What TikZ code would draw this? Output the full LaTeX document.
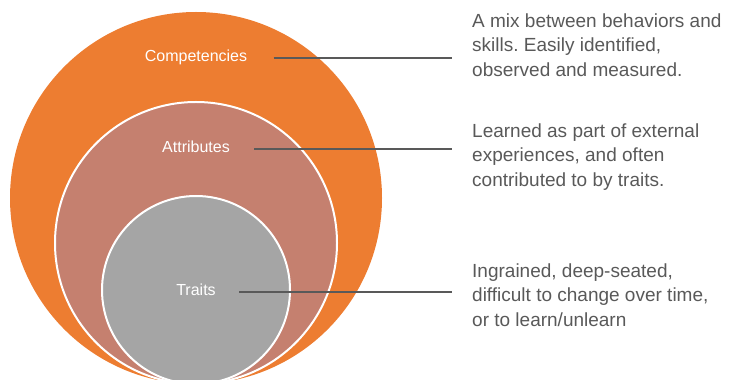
\documentclass[tikz,border=0pt]{standalone}
\usepackage{fontspec}
\setmainfont{Liberation Sans}
\frenchspacing
\definecolor{compOrange}{HTML}{ED7D31}
\definecolor{attrRose}{HTML}{C5806F}
\definecolor{traitGrey}{HTML}{A5A5A5}
\definecolor{noteGrey}{HTML}{595959}

\begin{document}
\begin{tikzpicture}[x=1pt,y=1pt,
		lbl/.style={text=white,font=\fontsize{16}{19}\selectfont,anchor=base,text height=11.5pt,text depth=3.4pt},
		note/.style={text=noteGrey,font=\fontsize{19}{24.5}\selectfont,align=left,anchor=north west,inner sep=0pt},
		leader/.style={draw=noteGrey,line width=2.2pt,shorten >=20pt}]
	\useasboundingbox (0,0) rectangle (736,380);
	% nested circles, all touching at the bottom
	\begin{scope}
		\clip (0,0) rectangle (736,380);
		\fill[compOrange] (196,182) circle (186);
		\filldraw[fill=attrRose,draw=white,line width=2pt] (196,137) circle (141);
		\filldraw[fill=traitGrey,draw=white,line width=2pt] (196,90) circle (94);
	\end{scope}
	\node[lbl] (comp) at (196,318) {Competencies};
	\node[lbl] (attr) at (196,227) {Attributes};
	\node[lbl] (trt) at (196,84) {Traits};
	% notes on the right
	\node[note] (compNote) at (472,366.5) {A mix between behaviors and\\skills. Easily identified,\\observed and measured.};
	\node[note] (attrNote) at (472,256.5) {Learned as part of external\\experiences, and often\\contributed to by traits.};
	\node[note] (trtNote) at (472,116.5) {Ingrained, deep-seated,\\difficult to change over time,\\or to learn/unlearn};
	\draw[leader] ([xshift=23pt]comp.east) -- (comp.east -| compNote.west);
	\draw[leader] ([xshift=21pt]attr.east) -- (attr.east -| attrNote.west);
	\draw[leader] ([xshift=20pt]trt.east) -- (trt.east -| trtNote.west);
\end{tikzpicture}
\end{document}
